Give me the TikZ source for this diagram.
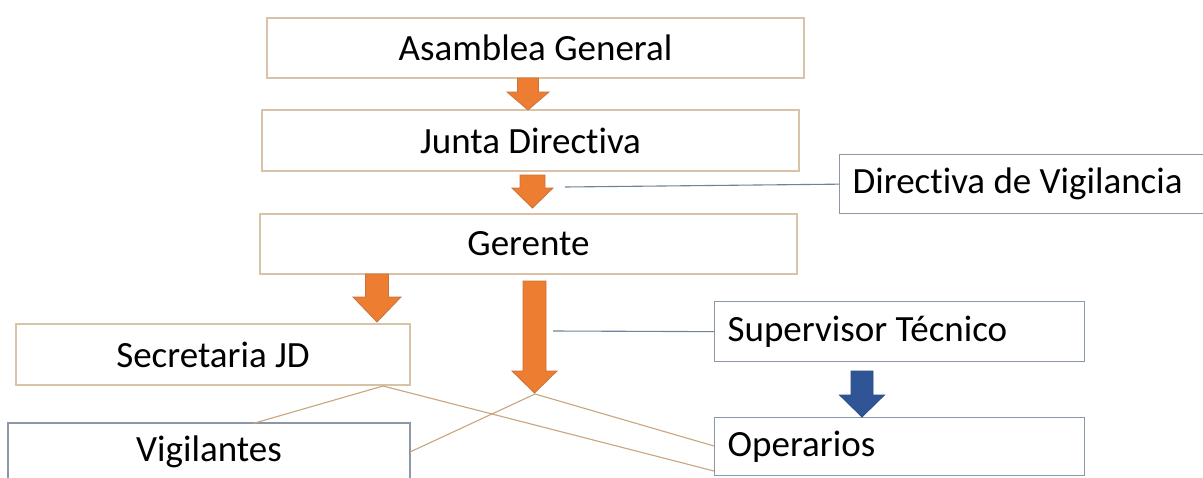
\documentclass[tikz,border=0pt]{standalone}
\usepackage{fontspec}
\setmainfont[RawFeature={-liga;-clig;-calt;-dlig;-rlig}]{Carlito}
\begin{document}
\begin{tikzpicture}[x=1pt,y=-1pt,
  obox/.style={draw=boxtan,line width=1.3pt,fill=white,inner sep=0pt,font=\fontsize{37}{40}\selectfont},
  bbox/.style={draw=boxblue,line width=1.3pt,fill=white,inner sep=0pt,font=\fontsize{37}{40}\selectfont},
  lbox/.style={bbox,inner xsep=13pt},
  tanline/.style={draw=linetan,line width=1.1pt},
  blueline/.style={draw=lineblue,line width=1.1pt},
  oarrow/.style={fill=arrorange,draw=arrorangeedge,line width=0.8pt,line join=miter},
  barrow/.style={fill=arrblue,draw=arrblueedge,line width=0.8pt,line join=miter}]
\definecolor{boxtan}{HTML}{D8C3A8}
\definecolor{boxblue}{HTML}{8A98A8}
\definecolor{linetan}{HTML}{C9A57E}
\definecolor{lineblue}{HTML}{6F8398}
\definecolor{arrorange}{HTML}{ED7D31}
\definecolor{arrorangeedge}{HTML}{C8743E}
\definecolor{arrblue}{HTML}{2F5597}
\definecolor{arrblueedge}{HTML}{2A4C86}
\newcommand\blockarr[7]{%
  \path[#7] ({#1-#4},#2) -- ({#1+#4},#2) -- ({#1+#4},#6) -- ({#1+#5},#6) -- (#1,#3)
    -- ({#1-#5},#6) -- ({#1-#4},#6) -- cycle;}
\newcommand\lefttext[1]{\hbox to 344pt{#1\hfil}}
\fill[white] (0,0) rectangle (1203,477);
\useasboundingbox (0,0) rectangle (1203,477);

% boxes
\node[obox,minimum width=537pt,minimum height=60pt] (ag) at (535.5,48) {Asamblea General};
\node[obox,minimum width=537pt,minimum height=61pt] (jd) at (530.5,140.5) {Junta Direct\kern0pt iva};
\node[obox,minimum width=537pt,minimum height=60pt] (ge) at (528.5,244) {Gerente};
\node[obox,minimum width=394pt,minimum height=61pt] (sjd) at (213,354.5) {Secretaria JD};
\node[bbox,minimum width=402pt,minimum height=58pt] (vi) at (209,452) {Vigilantes};
\node[lbox,minimum height=59pt,anchor=north west] (dv) at (839,154) {\lefttext{Direct\kern0pt iva de Vigilancia}};
\node[lbox,minimum height=60pt,anchor=north west] (st) at (714,301) {\lefttext{Supervisor T\'ecnico}};
\node[lbox,minimum height=58pt,anchor=north west] (op) at (714,417) {\lefttext{Operarios}};

% block arrows
\blockarr{528}{78}{110}{10.5}{21}{92}{oarrow}
\blockarr{532.5}{175}{208}{12.5}{20.5}{188}{oarrow}
\blockarr{377}{274}{322}{11.5}{24}{297}{oarrow}
\blockarr{534.5}{281}{393}{11.5}{22.5}{371}{oarrow}
\blockarr{862}{371}{417}{11}{22.5}{395}{barrow}

% connector end points
\coordinate (c2) at (565,187);
\coordinate (c4) at (553,331);
\coordinate (tip) at (535,394);
\coordinate (sb) at (383,386);
\coordinate (vt) at (253,423.5);
\coordinate (vr) at (410,452);
\coordinate (oa) at (714,446);
\coordinate (ob) at (714,471);

\path[blueline] (c2) -- (dv.west);
\path[blueline] (c4) -- (st.west);
\path[tanline] (sb) -- (vt);
\path[tanline] (sb) -- (ob);
\path[tanline] (tip) -- (vr);
\path[tanline] (tip) -- (oa);
\end{tikzpicture}
\end{document}
